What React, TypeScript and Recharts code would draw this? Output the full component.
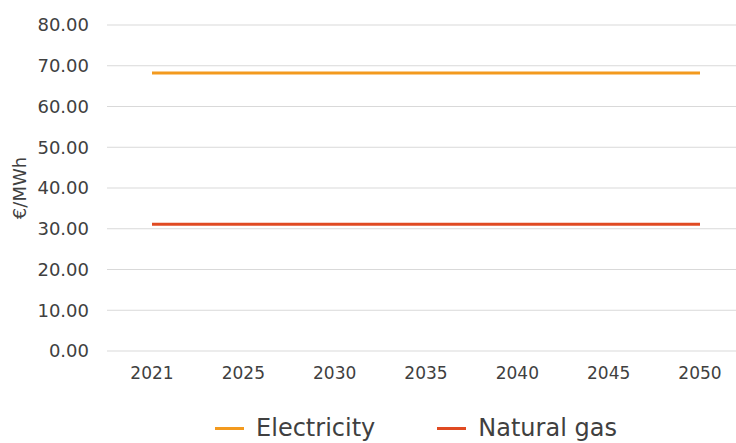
import { LineChart, Line, XAxis, YAxis, CartesianGrid, Legend } from 'recharts';

const years = ['2021', '2025', '2030', '2035', '2040', '2045', '2050'];
const electricity = [68.2, 68.2, 68.2, 68.2, 68.2, 68.2, 68.2];
const naturalGas = [31.1, 31.1, 31.1, 31.1, 31.1, 31.1, 31.1];
const yTicks = [0, 10, 20, 30, 40, 50, 60, 70, 80];

const seriesInfo = [
  { key: 'electricity', name: 'Electricity', color: '#F39A1E' },
  { key: 'naturalGas', name: 'Natural gas', color: '#E04A22' },
];

const FONT = '"DejaVu Sans", sans-serif';
const TEXT = '#404040';

const CustomLegend = () => (
  <div
    style={{
      display: 'flex',
      justifyContent: 'center',
      alignItems: 'center',
      gap: 62,
      paddingLeft: 96,
      height: 30,
      lineHeight: '28px',
      fontFamily: FONT,
      fontSize: 24,
      color: TEXT,
    }}
  >
    {seriesInfo.map((s) => (
      <div key={s.key} style={{ display: 'flex', alignItems: 'center', gap: 12 }}>
        <div style={{ width: 29, height: 3, backgroundColor: s.color }} />
        <span>{s.name}</span>
      </div>
    ))}
  </div>
);

export default function App() {
  const data = years.map((year, i) => ({
    year,
    electricity: electricity[i],
    naturalGas: naturalGas[i],
  }));

  return (
    <div style={{ position: 'absolute', left: 0, top: 0, background: '#fff' }}>
      <LineChart width={736} height={443} data={data} margin={{ top: 25, right: 0, left: 0, bottom: 0 }}>
        <CartesianGrid stroke="#d9d9d9" strokeWidth={1} vertical={false} />
        <XAxis
          dataKey="year"
          axisLine={false}
          tickLine={false}
          tickSize={0}
          tickMargin={16}
          height={62}
          padding={{ left: 45, right: 36 }}
          tick={{ fill: TEXT, fontSize: 17, fontFamily: FONT }}
          interval={0}
        />
        <YAxis
          domain={[0, 80]}
          ticks={yTicks}
          width={107}
          axisLine={false}
          tickLine={false}
          tickSize={0}
          tickMargin={18}
          tickFormatter={(v: number) => v.toFixed(2)}
          tick={{ fill: TEXT, fontSize: 18, fontFamily: FONT }}
          label={{ value: '€/MWh', angle: -90, position: 'insideLeft', offset: 20, fill: TEXT, fontSize: 18, fontFamily: FONT, style: { textAnchor: 'middle' } }}
        />
        <Legend verticalAlign="bottom" height={30} content={<CustomLegend />} />
        {seriesInfo.map((s) => (
          <Line
            key={s.key}
            dataKey={s.key}
            name={s.name}
            stroke={s.color}
            strokeWidth={3}
            dot={false}
            isAnimationActive={false}
          />
        ))}
      </LineChart>
    </div>
  );
}
